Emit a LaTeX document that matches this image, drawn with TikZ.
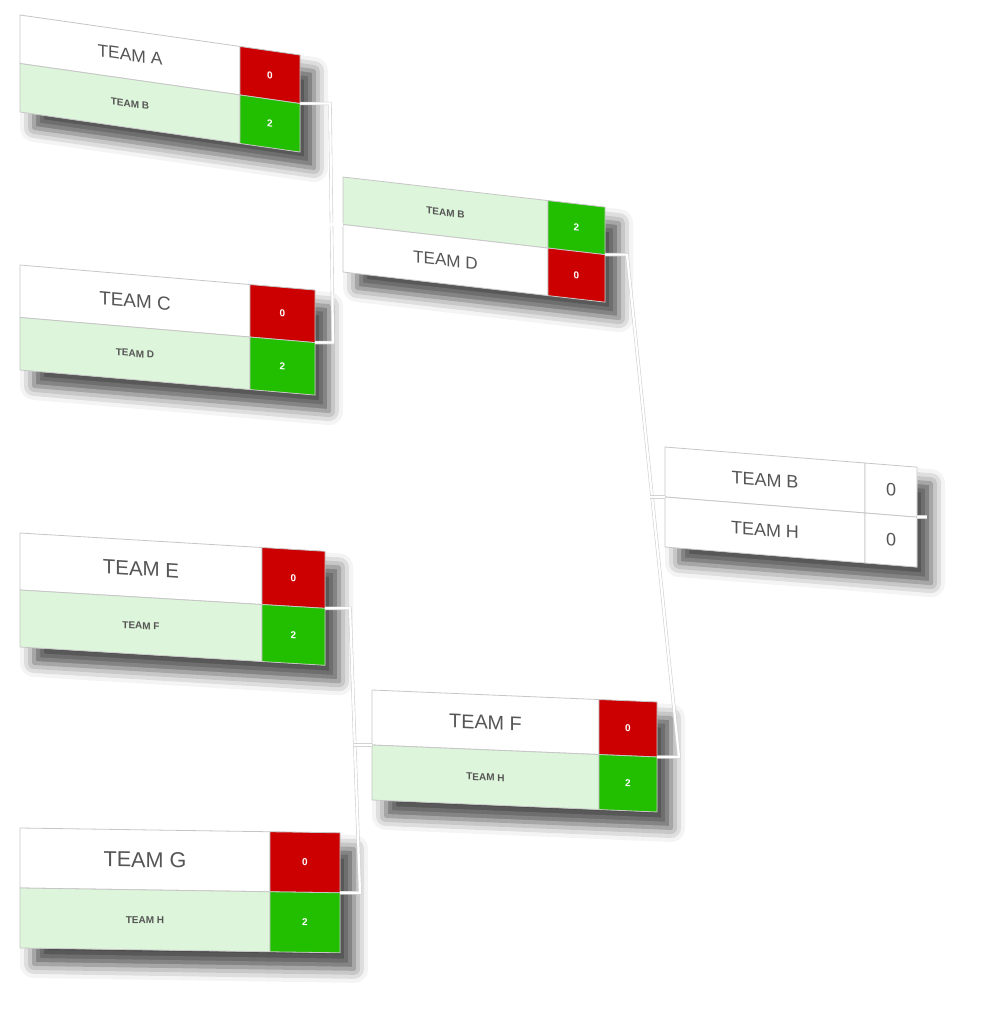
\documentclass[tikz,border=0pt]{standalone}
\usepackage{fontspec}
\setmainfont{Liberation Sans}
\usetikzlibrary{calc,shadows.blur}
\definecolor{lossred}{HTML}{CC0000}
\definecolor{wingreen}{HTML}{22BF00}
\definecolor{winbg}{HTML}{DDF5DA}
\definecolor{inkgray}{HTML}{555555}
\begin{document}
\begin{tikzpicture}[x=1pt,y=1pt,
  cell/.style={draw=gray!45,line width=0.8pt,inner sep=0pt,outer sep=0pt,anchor=north west,text=inkgray},
  lose/.style={cell,fill=white},
  win/.style={cell,fill=winbg,font=\bfseries},
  plain/.style={cell,fill=white},
  red/.style={cell,fill=lossred,text=white,font=\bfseries},
  green/.style={cell,fill=wingreen,text=white,font=\bfseries},
  plainscore/.style={cell,fill=white},
  link/.style={draw=gray!35,double=white,double distance=2.2pt,line width=0.6pt}
  ]
  \useasboundingbox (0,0) rectangle (987,-1009);

  % one box per match: name/x/y/slant/width/score width/height/teams and scores/styles
  \foreach \nm/\x/\y/\k/\w/\sw/\h/\ta/\sa/\fa/\ga/\tb/\sb/\fb/\gb in {
    AB/20/15/-0.143/280/60/97/TEAM A/0/lose/red/TEAM B/2/win/green,
    CD/20/265/-0.085/295/65/105/TEAM C/0/lose/red/TEAM D/2/win/green,
    EF/20/533/-0.06/305/63/114/TEAM E/0/lose/red/TEAM F/2/win/green,
    GH/20/828/-0.015/320/70/120/TEAM G/0/lose/red/TEAM H/2/win/green,
    BD/343/177/-0.115/262/57/95/TEAM B/2/win/green/TEAM D/0/lose/red,
    FH/372/690/-0.042/285/58/110/TEAM F/0/lose/red/TEAM H/2/win/green,
    FN/665/447/-0.08/252/52/100/TEAM B/0/plain/plainscore/TEAM H/0/plain/plainscore}{
    \pgfmathsetmacro\fs{\h*0.18}
    \pgfmathsetmacro\tw{\w-\sw}
    \pgfmathsetmacro\rh{\h/2}
    \begin{scope}[shift={(\x,-\y)},yslant=\k,transform shape,
        every node/.append style={font=\fontsize{\fs}{\fs}\selectfont}]
      \path[fill=white,blur shadow={shadow xshift=14pt,shadow yshift=-16pt,shadow blur radius=14pt,shadow opacity=70}]
        (0,0) rectangle (\w,-\h);
      \node[\fa,minimum width=\tw,minimum height=\rh] (\nm-t1) at (0,0) {\ta};
      \node[\ga,minimum width=\sw,minimum height=\rh] (\nm-s1) at (\nm-t1.north east) {\sa};
      \node[\fb,minimum width=\tw,minimum height=\rh] (\nm-t2) at (\nm-t1.south west) {\tb};
      \node[\gb,minimum width=\sw,minimum height=\rh] (\nm-s2) at (\nm-t2.north east) {\sb};
    \end{scope}
  }

  % connectors
  \draw[link] (AB-s2.north east) -- ++(30,0) coordinate (jab)
    -- ($(CD-s2.north east)+(18,0)$) -- (CD-s2.north east);
  \draw[link] ($(BD-t2.north west)+(-15,0)$) -- (BD-t2.north west);
  \draw[link] (EF-s2.north east) -- ++(25,0)
    -- ($(GH-s2.north east)+(20,0)$) -- (GH-s2.north east);
  \draw[link] ($(FH-t2.north west)+(-18,0)$) -- (FH-t2.north west);
  \draw[link] (BD-s2.north east) -- ++(22,0)
    -- ($(FH-s2.north east)+(22,0)$) -- (FH-s2.north east);
  \draw[link] ($(FN-t2.north west)+(-15,0)$) -- (FN-t2.north west);
  \draw[link] (FN-s2.north east) -- ++(10,0);
\end{tikzpicture}
\end{document}
